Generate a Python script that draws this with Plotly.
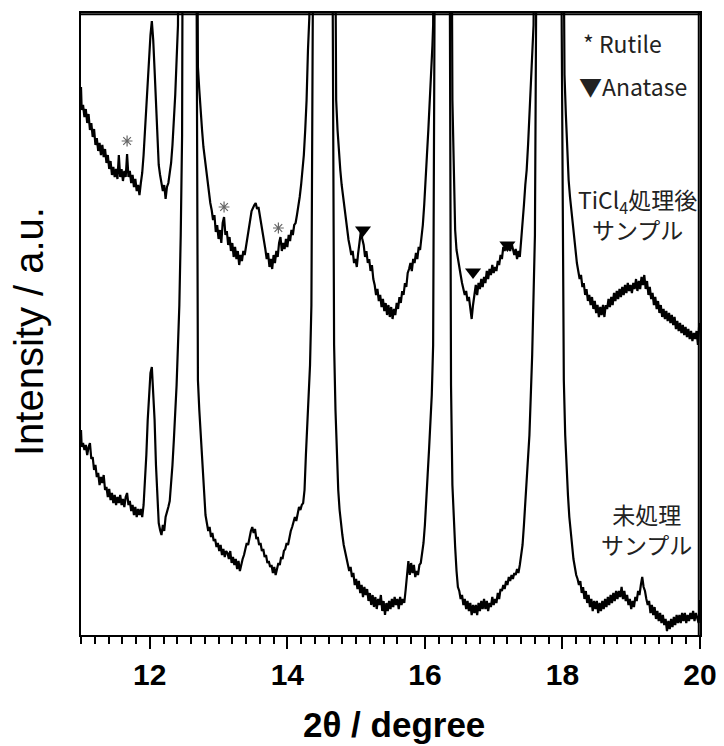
import plotly.graph_objects as go

# ---------------- data ----------------
upper_theta = [11.00, 11.01, 11.03, 11.05, 11.07, 11.09, 11.11, 11.13, 11.15, 11.17, 11.19, 11.21, 11.23, 11.25, 11.27, 11.29,
               11.31, 11.33, 11.35, 11.37, 11.39, 11.41, 11.43, 11.45, 11.47, 11.49, 11.51, 11.53, 11.55, 11.57, 11.59, 11.61,
               11.63, 11.65, 11.67, 11.69, 11.71, 11.73, 11.75, 11.77, 11.79, 11.81, 11.83, 11.85, 11.87, 11.89, 11.91, 11.93,
               11.95, 11.97, 11.99, 12.01, 12.03, 12.05, 12.07, 12.09, 12.11, 12.13, 12.15, 12.17, 12.19, 12.21, 12.23, 12.25,
               12.27, 12.29, 12.31, 12.33, 12.35, 12.37, 12.39, 12.41, 12.555, 12.70, 12.72, 12.74, 12.76, 12.78, 12.80, 12.82,
               12.84, 12.86, 12.88, 12.90, 12.92, 12.94, 12.96, 12.98, 13.00, 13.02, 13.04, 13.06, 13.08, 13.10, 13.12, 13.14,
               13.16, 13.18, 13.20, 13.22, 13.24, 13.26, 13.28, 13.30, 13.32, 13.34, 13.36, 13.38, 13.40, 13.42, 13.44, 13.46,
               13.48, 13.50, 13.52, 13.54, 13.56, 13.58, 13.60, 13.62, 13.64, 13.66, 13.68, 13.70, 13.72, 13.74, 13.76, 13.78,
               13.80, 13.82, 13.84, 13.86, 13.88, 13.90, 13.92, 13.94, 13.96, 13.98, 14.00, 14.02, 14.04, 14.06, 14.08, 14.10,
               14.12, 14.14, 14.16, 14.18, 14.20, 14.22, 14.24, 14.26, 14.28, 14.30, 14.32, 14.52, 14.71, 14.73, 14.75, 14.77,
               14.79, 14.81, 14.83, 14.85, 14.87, 14.89, 14.91, 14.93, 14.95, 14.97, 14.99, 15.01, 15.03, 15.05, 15.07, 15.09,
               15.11, 15.13, 15.15, 15.17, 15.19, 15.21, 15.23, 15.25, 15.27, 15.29, 15.31, 15.33, 15.35, 15.37, 15.39, 15.41,
               15.43, 15.45, 15.47, 15.49, 15.51, 15.53, 15.55, 15.57, 15.59, 15.61, 15.63, 15.65, 15.67, 15.69, 15.71, 15.73,
               15.75, 15.77, 15.79, 15.81, 15.83, 15.85, 15.87, 15.89, 15.91, 15.93, 15.95, 15.97, 15.99, 16.01, 16.03, 16.05,
               16.07, 16.09, 16.11, 16.12, 16.26, 16.40, 16.42, 16.44, 16.46, 16.48, 16.50, 16.52, 16.54, 16.56, 16.58, 16.60,
               16.62, 16.64, 16.66, 16.68, 16.70, 16.72, 16.74, 16.76, 16.78, 16.80, 16.82, 16.84, 16.86, 16.88, 16.90, 16.92,
               16.94, 16.96, 16.98, 17.00, 17.02, 17.04, 17.06, 17.08, 17.10, 17.12, 17.14, 17.16, 17.18, 17.20, 17.22, 17.24,
               17.26, 17.28, 17.30, 17.32, 17.34, 17.36, 17.38, 17.40, 17.42, 17.44, 17.46, 17.48, 17.50, 17.52, 17.54, 17.56,
               17.58, 17.80, 18.03, 18.05, 18.07, 18.09, 18.11, 18.13, 18.15, 18.17, 18.19, 18.21, 18.23, 18.25, 18.27, 18.29,
               18.31, 18.33, 18.35, 18.37, 18.39, 18.41, 18.43, 18.45, 18.47, 18.49, 18.51, 18.53, 18.55, 18.57, 18.59, 18.61,
               18.63, 18.65, 18.67, 18.69, 18.71, 18.73, 18.75, 18.77, 18.79, 18.81, 18.83, 18.85, 18.87, 18.89, 18.91, 18.93,
               18.95, 18.97, 18.99, 19.01, 19.03, 19.05, 19.07, 19.09, 19.11, 19.13, 19.15, 19.17, 19.19, 19.21, 19.23, 19.25,
               19.27, 19.29, 19.31, 19.33, 19.35, 19.37, 19.39, 19.41, 19.43, 19.45, 19.47, 19.49, 19.51, 19.53, 19.55, 19.57,
               19.59, 19.61, 19.63, 19.65, 19.67, 19.69, 19.71, 19.73, 19.75, 19.77, 19.79, 19.81, 19.83, 19.85, 19.87, 19.89,
               19.91, 19.93, 19.95, 19.97, 19.99, 20.00]
upper_counts = [548, 525, 530, 518, 526, 512, 521, 505, 512, 498, 506, 490, 497, 484, 492, 480,
                490, 478, 486, 472, 480, 466, 474, 460, 468, 458, 466, 456, 480, 458, 466, 454,
                464, 458, 481, 458, 464, 452, 460, 448, 456, 444, 450, 440, 452, 462, 480, 505,
                535, 560, 585, 600, 614, 595, 565, 530, 490, 470, 460, 452, 444, 450, 436, 448,
                452, 462, 472, 490, 512, 540, 575, 610, 3000, 568, 545, 520, 505, 488, 476, 462,
                450, 440, 432, 425, 415, 420, 403, 410, 396, 405, 392, 412, 418, 400, 404, 390,
                398, 384, 392, 378, 388, 376, 384, 370, 380, 374, 384, 380, 390, 395, 405, 415,
                424, 428, 430, 432, 426, 428, 420, 414, 402, 394, 386, 376, 382, 368, 376, 366,
                380, 372, 384, 378, 392, 398, 384, 392, 386, 396, 388, 400, 394, 405, 400, 410,
                412, 420, 428, 438, 450, 462, 480, 505, 535, 585, 618, 3000, 535, 505, 480, 465,
                450, 438, 428, 418, 405, 395, 388, 380, 384, 372, 376, 368, 382, 392, 404, 396,
                390, 378, 384, 372, 376, 364, 370, 356, 350, 340, 346, 334, 340, 328, 336, 324,
                332, 320, 330, 318, 328, 316, 326, 320, 332, 326, 338, 332, 344, 340, 352, 348,
                362, 366, 372, 364, 376, 372, 382, 376, 388, 385, 395, 410, 430, 450, 480, 505,
                530, 560, 590, 610, 3000, 535, 465, 405, 385, 375, 366, 360, 352, 346, 340, 344,
                334, 338, 326, 316, 330, 342, 350, 340, 352, 346, 356, 348, 358, 352, 364, 356,
                366, 360, 370, 362, 368, 364, 374, 370, 380, 376, 388, 384, 392, 386, 390, 384,
                392, 386, 380, 386, 376, 384, 378, 395, 410, 430, 450, 465, 490, 520, 550, 580,
                610, 3000, 560, 520, 478, 455, 438, 424, 410, 395, 380, 372, 364, 356, 360, 348,
                352, 340, 346, 334, 340, 330, 338, 326, 334, 322, 330, 318, 328, 320, 330, 318,
                330, 326, 336, 328, 338, 330, 342, 334, 344, 336, 346, 338, 348, 340, 350, 342,
                352, 344, 350, 342, 352, 346, 356, 344, 354, 346, 358, 350, 360, 346, 354, 340,
                348, 336, 342, 330, 338, 326, 334, 322, 330, 318, 326, 316, 324, 314, 322, 312,
                320, 310, 318, 306, 314, 304, 312, 302, 310, 300, 308, 298, 306, 296, 304, 294,
                302, 296, 304, 290, 312, 305]

lower_theta = [11.00, 11.01, 11.03, 11.05, 11.07, 11.09, 11.11, 11.13, 11.15, 11.17, 11.19, 11.21, 11.23, 11.25, 11.27, 11.29,
               11.31, 11.33, 11.35, 11.37, 11.39, 11.41, 11.43, 11.45, 11.47, 11.49, 11.51, 11.53, 11.55, 11.57, 11.59, 11.61,
               11.63, 11.65, 11.67, 11.69, 11.71, 11.73, 11.75, 11.77, 11.79, 11.81, 11.83, 11.85, 11.87, 11.89, 11.91, 11.93,
               11.95, 11.97, 11.99, 12.01, 12.03, 12.05, 12.07, 12.09, 12.11, 12.13, 12.15, 12.17, 12.19, 12.21, 12.23, 12.25,
               12.27, 12.29, 12.31, 12.33, 12.35, 12.37, 12.39, 12.41, 12.43, 12.45, 12.47, 12.565, 12.70, 12.72, 12.75, 12.77,
               12.79, 12.81, 12.83, 12.85, 12.87, 12.89, 12.91, 12.93, 12.95, 12.97, 12.99, 13.01, 13.03, 13.05, 13.07, 13.09,
               13.11, 13.13, 13.15, 13.17, 13.19, 13.21, 13.23, 13.25, 13.27, 13.29, 13.31, 13.33, 13.35, 13.37, 13.39, 13.41,
               13.43, 13.45, 13.47, 13.49, 13.51, 13.53, 13.55, 13.57, 13.59, 13.61, 13.63, 13.65, 13.67, 13.69, 13.71, 13.73,
               13.75, 13.77, 13.79, 13.81, 13.83, 13.85, 13.87, 13.89, 13.91, 13.93, 13.95, 13.97, 13.99, 14.01, 14.03, 14.05,
               14.07, 14.09, 14.11, 14.13, 14.15, 14.17, 14.19, 14.21, 14.23, 14.25, 14.27, 14.29, 14.31, 14.33, 14.35, 14.37,
               14.52, 14.68, 14.70, 14.72, 14.74, 14.76, 14.78, 14.80, 14.82, 14.84, 14.86, 14.88, 14.90, 14.92, 14.94, 14.96,
               14.98, 15.00, 15.02, 15.04, 15.06, 15.08, 15.10, 15.12, 15.14, 15.16, 15.18, 15.20, 15.22, 15.24, 15.26, 15.28,
               15.30, 15.32, 15.34, 15.36, 15.38, 15.40, 15.42, 15.44, 15.46, 15.48, 15.50, 15.52, 15.54, 15.56, 15.58, 15.60,
               15.62, 15.64, 15.66, 15.68, 15.70, 15.72, 15.74, 15.76, 15.78, 15.80, 15.82, 15.84, 15.86, 15.88, 15.90, 15.92,
               15.94, 15.96, 15.98, 16.00, 16.02, 16.04, 16.06, 16.08, 16.10, 16.12, 16.14, 16.26, 16.38, 16.40, 16.42, 16.44,
               16.46, 16.48, 16.50, 16.52, 16.54, 16.56, 16.58, 16.60, 16.62, 16.64, 16.66, 16.68, 16.70, 16.72, 16.74, 16.76,
               16.78, 16.80, 16.82, 16.84, 16.86, 16.88, 16.90, 16.92, 16.94, 16.96, 16.98, 17.00, 17.02, 17.04, 17.06, 17.08,
               17.10, 17.12, 17.14, 17.16, 17.18, 17.20, 17.22, 17.24, 17.26, 17.28, 17.30, 17.32, 17.34, 17.36, 17.38, 17.40,
               17.42, 17.44, 17.46, 17.48, 17.50, 17.52, 17.54, 17.56, 17.60, 17.62, 17.80, 17.99, 18.02, 18.04, 18.06, 18.08,
               18.10, 18.12, 18.14, 18.16, 18.18, 18.20, 18.22, 18.24, 18.26, 18.28, 18.30, 18.32, 18.34, 18.36, 18.38, 18.40,
               18.42, 18.44, 18.46, 18.48, 18.50, 18.52, 18.54, 18.56, 18.58, 18.60, 18.62, 18.64, 18.66, 18.68, 18.70, 18.72,
               18.74, 18.76, 18.78, 18.80, 18.82, 18.84, 18.86, 18.88, 18.90, 18.92, 18.94, 18.96, 18.98, 19.00, 19.02, 19.04,
               19.06, 19.08, 19.10, 19.12, 19.14, 19.16, 19.18, 19.20, 19.22, 19.24, 19.26, 19.28, 19.30, 19.32, 19.34, 19.36,
               19.38, 19.40, 19.42, 19.44, 19.46, 19.48, 19.50, 19.52, 19.54, 19.56, 19.58, 19.60, 19.62, 19.64, 19.66, 19.68,
               19.70, 19.72, 19.74, 19.76, 19.78, 19.80, 19.82, 19.84, 19.86, 19.88, 19.90, 19.92, 19.94, 19.96, 19.98, 20.00]
lower_counts = [205, 188, 192, 185, 190, 180, 188, 192, 176, 178, 165, 170, 158, 162, 150, 158,
                152, 160, 145, 148, 138, 146, 135, 142, 132, 140, 130, 138, 132, 140, 130, 136,
                128, 138, 142, 130, 134, 124, 130, 120, 128, 118, 126, 120, 126, 118, 130, 150,
                180, 215, 240, 262, 268, 240, 215, 170, 135, 112, 105, 100, 110, 104, 118, 122,
                128, 134, 150, 170, 195, 220, 250, 290, 330, 400, 500, 3000, 255, 225, 188, 160,
                140, 120, 112, 104, 108, 98, 102, 94, 96, 88, 92, 84, 90, 80, 86, 78,
                84, 82, 76, 84, 72, 78, 70, 76, 66, 74, 64, 72, 76, 80, 86, 92,
                90, 98, 104, 108, 102, 106, 96, 98, 90, 92, 84, 86, 78, 80, 72, 74,
                68, 70, 62, 68, 60, 66, 72, 70, 78, 76, 84, 86, 92, 90, 98, 104,
                108, 112, 118, 114, 122, 128, 125, 130, 132, 145, 180, 215, 248, 270, 330, 620,
                3000, 290, 225, 175, 145, 125, 110, 100, 90, 84, 76, 72, 64, 68, 58, 62,
                50, 56, 46, 54, 42, 50, 38, 48, 40, 46, 34, 42, 30, 40, 28, 38,
                26, 36, 30, 40, 24, 34, 20, 32, 24, 34, 26, 36, 28, 38, 30, 36,
                26, 38, 30, 36, 32, 45, 62, 74, 60, 72, 62, 70, 58, 64, 60, 70,
                72, 80, 92, 110, 130, 160, 185, 210, 240, 290, 620, 3000, 250, 150, 110, 88,
                64, 48, 44, 36, 40, 30, 36, 26, 34, 24, 32, 20, 30, 22, 30, 20,
                32, 24, 34, 26, 36, 26, 34, 24, 32, 28, 38, 30, 36, 32, 42, 36,
                46, 44, 50, 46, 54, 50, 58, 54, 60, 56, 62, 60, 66, 62, 70, 78,
                90, 110, 130, 150, 175, 200, 240, 280, 400, 620, 3000, 600, 255, 200, 165, 140,
                118, 100, 90, 76, 66, 60, 56, 50, 54, 42, 48, 36, 44, 32, 40, 28,
                36, 24, 34, 26, 34, 22, 32, 24, 34, 26, 36, 28, 38, 30, 40, 32,
                42, 34, 44, 36, 44, 38, 48, 36, 44, 34, 40, 30, 36, 26, 34, 28,
                38, 34, 44, 40, 50, 58, 48, 44, 36, 30, 34, 22, 30, 20, 28, 16,
                24, 14, 22, 12, 20, 10, 16, 4, 14, 6, 16, 8, 18, 10, 20, 12,
                20, 12, 22, 14, 22, 12, 20, 14, 22, 16, 24, 14, 22, 18, 12, 35]

# peak markers
rutile_theta = [11.67, 13.08, 13.87]
rutile_counts = [494, 428, 407]
anatase_theta = [15.10, 16.70, 17.20]
anatase_counts = [405, 363, 390]

x_tick_values = [12, 14, 16, 18, 20]
x_tick_labels = ["12", "14", "16", "18", "20"]

# ---------------- figure ----------------
fig = go.Figure()
line_style = dict(color="black", width=2.2)
fig.add_trace(go.Scatter(x=lower_theta, y=lower_counts, mode="lines", line=line_style,
                         showlegend=False, hoverinfo="skip"))
fig.add_trace(go.Scatter(x=upper_theta, y=upper_counts, mode="lines", line=line_style,
                         showlegend=False, hoverinfo="skip"))
fig.add_trace(go.Scatter(x=rutile_theta, y=rutile_counts, mode="markers",
                         marker=dict(symbol="asterisk-open", size=9, color="#666666",
                                     line=dict(color="#666666", width=1.2)),
                         showlegend=False, hoverinfo="skip"))
fig.add_trace(go.Scatter(x=anatase_theta, y=anatase_counts, mode="markers",
                         marker=dict(symbol="triangle-down", size=14, color="black",
                                     line=dict(width=0)),
                         showlegend=False, hoverinfo="skip"))

label_font = dict(family="Noto Sans CJK JP", size=23, color="#222222")
fig.add_annotation(x=18.87, y=592, text="* Rutile", showarrow=False, font=label_font,
                   xanchor="center", yanchor="middle")
fig.add_annotation(x=19.03, y=549, text="▼Anatase", showarrow=False, font=label_font,
                   xanchor="center", yanchor="middle")
fig.add_annotation(x=19.09, y=421, text="TiCl<sub>4</sub>処理後<br>サンプル", showarrow=False,
                   font=label_font, xanchor="center", yanchor="middle")
fig.add_annotation(x=19.22, y=106, text="未処理<br>サンプル", showarrow=False,
                   font=label_font, xanchor="center", yanchor="middle")

# axis titles
fig.add_annotation(xref="paper", yref="paper", x=0, y=0.487, xshift=-52, textangle=-90,
                   text="Intensity / a.u.", showarrow=False,
                   font=dict(family="Liberation Sans, Arial", size=40, color="black"),
                   xanchor="center", yanchor="middle")
fig.add_annotation(xref="paper", yref="paper", x=0.505, y=0, yshift=-89,
                   text="2θ / degree", showarrow=False,
                   font=dict(family="Liberation Sans, Arial", size=35, color="black", weight="bold"),
                   xanchor="center", yanchor="middle")

# frame around the plotting area (top and right edges drawn explicitly)
fig.add_shape(type="line", xref="paper", yref="paper", x0=0, y0=0.998, x1=1, y1=0.998,
              line=dict(color="black", width=2), layer="above")
fig.add_shape(type="line", xref="paper", yref="paper", x0=0.998, y0=0, x1=0.998, y1=1,
              line=dict(color="black", width=2), layer="above")

fig.update_xaxes(range=[11, 20], tickmode="array", tickvals=x_tick_values, ticktext=x_tick_labels,
                 ticks="outside", ticklen=12, tickwidth=2, tickcolor="black",
                 minor=dict(dtick=0.2, tick0=11, ticks="outside", ticklen=7, tickwidth=1.5, tickcolor="black"),
                 showline=True, linecolor="black", linewidth=2, mirror=True,
                 showgrid=False, zeroline=False, automargin=False,
                 tickfont=dict(family="Liberation Sans, Arial", size=30, color="black", weight="bold"))
fig.update_yaxes(range=[0, 622], showticklabels=False, ticks="",
                 showline=True, linecolor="black", linewidth=2, mirror=True,
                 showgrid=False, zeroline=False, automargin=False)

# the page body adds an 8 px offset, so the figure is 8 px smaller on the top/left
fig.update_layout(width=716, height=738, margin=dict(l=73, r=24, t=5, b=111),
                  paper_bgcolor="white", plot_bgcolor="white")

fig.write_html("out.html")
